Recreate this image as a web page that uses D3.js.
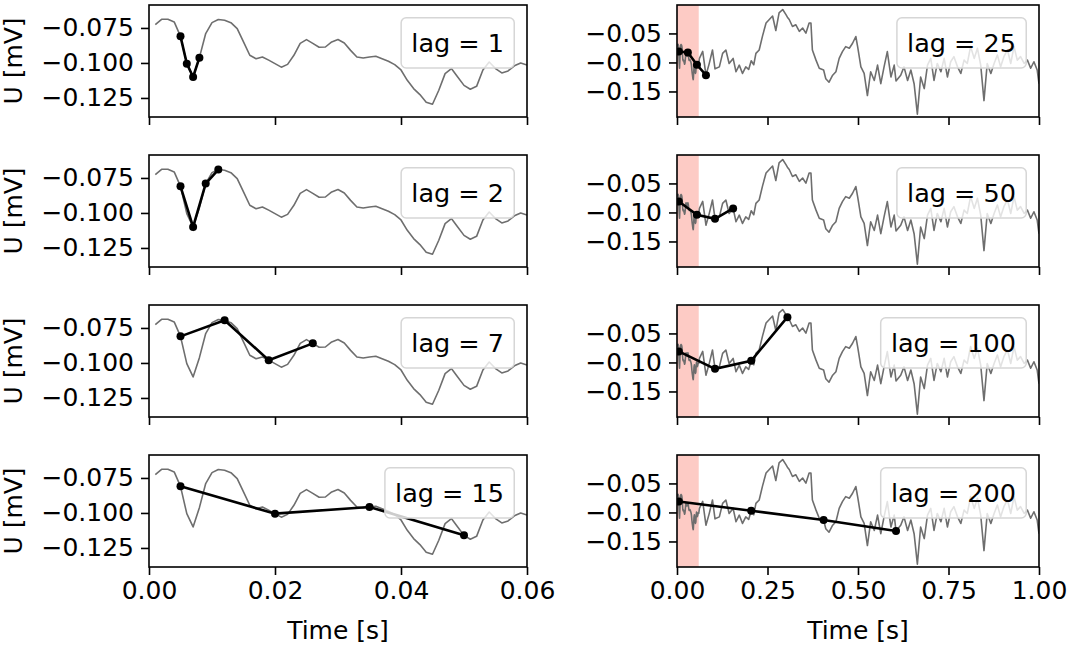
<!DOCTYPE html>
<meta charset="utf-8">
<title>Lag plots</title>
<script src="https://d3js.org/d3.v7.min.js"></script>
<style>
  body { margin: 0; background: #fff; }
  svg { display: block; }
  text { font-family: "DejaVu Sans", sans-serif; fill: #000; }
</style>
<body>
<div id="my_dataviz"></div>
<script>

// lags, one per row
var lags = [1, 2, 7, 15];
var lagsLong = [25, 50, 100, 200];

// short trace, 1 ms samples from 0.001 s to 0.060 s [mV]
var shortTrace = [
  -0.0726, -0.0688, -0.0688, -0.0707, -0.0810, -0.1005, -0.1100, -0.0962, -0.0790, -0.0712,
  -0.0690, -0.0695, -0.0712, -0.0755, -0.0850, -0.0945, -0.0970, -0.0957, -0.0980, -0.1005,
  -0.1030, -0.1010, -0.0945, -0.0860, -0.0833, -0.0860, -0.0888, -0.0886, -0.0850, -0.0833,
  -0.0857, -0.0910, -0.0957, -0.0964, -0.0957, -0.0952, -0.0970, -0.0988, -0.1012, -0.1050,
  -0.1124, -0.1183, -0.1226, -0.1280, -0.1295, -0.1195, -0.1076, -0.1040, -0.1100, -0.1160,
  -0.1188, -0.1167, -0.1050, -0.0993, -0.1040, -0.1071, -0.1057, -0.1020, -0.1000, -0.1015
];

// rest of the long trace after 0.06 s
var longTimes = [
  0.062, 0.071, 0.080, 0.089, 0.098, 0.105, 0.117, 0.126, 0.135, 0.144,
  0.155, 0.163, 0.172, 0.181, 0.190, 0.198, 0.205, 0.212, 0.218, 0.227,
  0.236, 0.246, 0.255, 0.264, 0.273, 0.282, 0.292, 0.301, 0.305, 0.310,
  0.319, 0.328, 0.338, 0.347, 0.356, 0.365, 0.370, 0.374, 0.384, 0.393,
  0.405, 0.411, 0.420, 0.430, 0.439, 0.448, 0.457, 0.466, 0.476, 0.485,
  0.494, 0.499, 0.508, 0.517, 0.526, 0.535, 0.545, 0.554, 0.563, 0.572,
  0.581, 0.591, 0.600, 0.605, 0.618, 0.627, 0.637, 0.646, 0.655, 0.664,
  0.673, 0.683, 0.692, 0.701, 0.710, 0.719, 0.729, 0.738, 0.747, 0.756,
  0.765, 0.775, 0.784, 0.793, 0.802, 0.811, 0.821, 0.830, 0.839, 0.848,
  0.857, 0.867, 0.876, 0.885, 0.894, 0.903, 0.913, 0.922, 0.931, 0.940,
  0.949, 0.959, 0.968, 0.977, 0.986, 0.995, 1.000
];
var longValues = [
  -0.093, -0.081, -0.122, -0.102, -0.0785, -0.111, -0.1076, -0.0843, -0.0785, -0.1017,
  -0.093, -0.116, -0.1046, -0.119, -0.1076, -0.112, -0.097, -0.104, -0.0843, -0.0785,
  -0.055, -0.032, -0.026, -0.020, -0.045, -0.0146, -0.0088, -0.0175, -0.022, -0.026,
  -0.038, -0.035, -0.0465, -0.0407, -0.0495, -0.032, -0.032, -0.0785, -0.096, -0.110,
  -0.113, -0.128, -0.134, -0.122, -0.116, -0.093, -0.0814, -0.0727, -0.0756, -0.0669,
  -0.0553, -0.0727, -0.1076, -0.119, -0.157, -0.116, -0.131, -0.1046, -0.1366, -0.1076,
  -0.0814, -0.125, -0.1046, -0.132, -0.122, -0.1076, -0.131, -0.113, -0.1366, -0.189,
  -0.125, -0.145, -0.1046, -0.093, -0.131, -0.1017, -0.116, -0.093, -0.125, -0.0988,
  -0.090, -0.1076, -0.119, -0.096, -0.1017, -0.0727, -0.093, -0.0756, -0.1046, -0.1657,
  -0.1017, -0.119, -0.1017, -0.0872, -0.1076, -0.090, -0.0785, -0.1017, -0.0727, -0.096,
  -0.090, -0.1017, -0.096, -0.110, -0.0988, -0.113, -0.1366
];

// lagged points in the right column [mV], one list per row
var longDots = [
  [-0.081, -0.083, -0.104, -0.122],
  [-0.081, -0.104, -0.111, -0.093],
  [-0.081, -0.111, -0.097, -0.022],
  [-0.081, -0.097, -0.113, -0.132]
];

var firstLag = 0.005;   // first point of every lag series [s]

var leftTicksX = [0, 0.02, 0.04, 0.06];
var rightTicksX = [0, 0.25, 0.5, 0.75, 1.0];
var leftTicksY = [-0.075, -0.100, -0.125];
var rightTicksY = [-0.05, -0.10, -0.15];
var shadeEnd = 0.06;

// layout
var W = 1084, H = 647;
var colX = [149, 677], colW = [378, 362];
var rowY = [5, 155, 305, 455], rowH = 112;
var tickFont = 25, legendFont = 25.5;

var svg = d3.select("#my_dataviz")
  .append("svg")
    .attr("width", W)
    .attr("height", H);

var minus = function(s) { return s.replace("-", "\u2212"); };

// build the data tables
var shortData = shortTrace.map(function(v, i) { return {t: (i + 1) / 1000, v: v}; });
var longData = shortData.concat(longTimes.map(function(t, i) { return {t: t, v: longValues[i]}; }));

var line = function(x, y) {
  return d3.line().x(function(d) { return x(d.t); }).y(function(d) { return y(d.v); });
};

function panel(col, row) {
  var g = svg.append("g")
    .attr("transform", "translate(" + colX[col] + "," + rowY[row] + ")");
  var w = colW[col];

  var x = d3.scaleLinear()
    .domain(col == 0 ? [0, 0.06] : [0, 1])
    .range([0, w]);
  var y = d3.scaleLinear()
    .domain(col == 0 ? [-0.1386, -0.0586] : [-0.194, -0.001])
    .range([rowH, 0]);

  var clipId = "clip" + col + row;
  g.append("clipPath").attr("id", clipId)
    .append("rect").attr("width", w).attr("height", rowH);

  var plot = g.append("g").attr("clip-path", "url(#" + clipId + ")");

  var data, dots, lag;
  if (col == 0) {
    lag = lags[row];
    data = shortData;
    dots = [0, 1, 2, 3].map(function(k) {
      var i = Math.round((firstLag + k * lag / 1000) * 1000) - 1;
      return shortData[i];
    });
  } else {
    lag = lagsLong[row];
    data = longData;
    dots = longDots[row].map(function(v, k) { return {t: firstLag + k * lag / 1000, v: v}; });
    plot.append("rect")
      .attr("x", x(0))
      .attr("y", 0)
      .attr("width", x(shadeEnd) - x(0))
      .attr("height", rowH)
      .attr("fill", "#fdcbc5");
  }

  plot.append("path")
    .datum(data)
    .attr("d", line(x, y))
    .attr("fill", "none")
    .attr("stroke", "#6e6e6e")
    .attr("stroke-width", 1.6)
    .attr("stroke-linejoin", "round");

  plot.append("path")
    .datum(dots)
    .attr("d", line(x, y))
    .attr("fill", "none")
    .attr("stroke", "#000")
    .attr("stroke-width", 2.6);

  plot.selectAll(".dot")
    .data(dots)
    .enter()
    .append("circle")
      .attr("cx", function(d) { return x(d.t); })
      .attr("cy", function(d) { return y(d.v); })
      .attr("r", 4)
      .attr("fill", "#000");

  // axes
  var xAxis = d3.axisBottom(x)
    .tickValues(col == 0 ? leftTicksX : rightTicksX)
    .tickSize(8).tickSizeOuter(0).tickPadding(6)
    .tickFormat(row == 3 ? d3.format(".2f") : function() { return ""; });
  var yAxis = d3.axisLeft(y)
    .tickValues(col == 0 ? leftTicksY : rightTicksY)
    .tickSize(8).tickSizeOuter(0).tickPadding(7)
    .tickFormat(function(d) { return minus(d3.format(col == 0 ? ".3f" : ".2f")(d)); });

  var gx = g.append("g").attr("transform", "translate(0," + rowH + ")").call(xAxis);
  var gy = g.append("g").call(yAxis);
  [gx, gy].forEach(function(a) {
    a.select(".domain").remove();
    a.selectAll("line").attr("stroke", "#000").attr("stroke-width", 1.6);
    a.selectAll("text")
      .style("font-family", "DejaVu Sans")
      .style("font-size", tickFont + "px")
      .attr("fill", "#000");
  });

  // frame
  g.append("rect")
    .attr("width", w).attr("height", rowH)
    .attr("fill", "none")
    .attr("stroke", "#000")
    .attr("stroke-width", 1.6);

  // legend box
  var leg = g.append("g");
  var lt = leg.append("text")
    .attr("text-anchor", "end")
    .style("font-size", legendFont + "px")
    .text("lag = " + lag);
  var tw = lt.node().getComputedTextLength();
  var pad = 0.4 * legendFont, edge = 0.5 * legendFont;
  var bw = tw + 2 * pad, bh = legendFont * 1.17 + 2 * pad;
  var bx = w - edge - bw, by = edge;
  leg.insert("rect", "text")
    .attr("x", bx).attr("y", by)
    .attr("width", bw).attr("height", bh)
    .attr("rx", 5)
    .attr("fill", "#fff").attr("fill-opacity", 0.8)
    .attr("stroke", "#d6d6d6").attr("stroke-width", 1.5);
  lt.attr("x", w - edge - pad).attr("y", by + pad + legendFont * 0.93);

  if (col == 0) {
    svg.append("text")
      .attr("transform", "translate(13," + (rowY[row] + rowH / 2) + ") rotate(-90)")
      .attr("text-anchor", "middle")
      .attr("dominant-baseline", "central")
      .style("font-size", tickFont + "px")
      .text("U [mV]");
  }
  if (row == 3) {
    svg.append("text")
      .attr("x", colX[col] + w / 2)
      .attr("y", 639)
      .attr("text-anchor", "middle")
      .style("font-size", tickFont + "px")
      .text("Time [s]");
  }
}

for (var r = 0; r < 4; r++) {
  panel(0, r);
  panel(1, r);
}

</script>
</body>
